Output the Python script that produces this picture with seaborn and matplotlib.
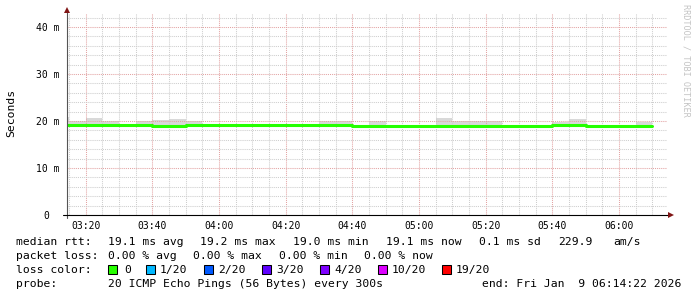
import matplotlib
matplotlib.use("Agg")
import matplotlib.pyplot as plt
import matplotlib.ticker as mticker
from matplotlib.patches import Rectangle
from matplotlib.transforms import ScaledTranslation
import pandas as pd
import seaborn as sns

# ---------------- data ----------------
step_times = ["03:10", "03:15", "03:20", "03:25", "03:30", "03:35", "03:40", "03:45",
              "03:50", "03:55", "04:00", "04:05", "04:10", "04:15", "04:20", "04:25",
              "04:30", "04:35", "04:40", "04:45", "04:50", "04:55", "05:00", "05:05",
              "05:10", "05:15", "05:20", "05:25", "05:30", "05:35", "05:40", "05:45",
              "05:50", "05:55", "06:00", "06:05"]
end_time = "06:10"
median_ms = [19.25, 19.25, 19.25, 19.25, 19.25, 19.25, 19.05, 19.05,
             19.25, 19.25, 19.25, 19.25, 19.25, 19.25, 19.25, 19.25,
             19.25, 19.25, 19.0, 19.0, 19.0, 19.0, 19.0, 19.0,
             19.0, 19.0, 19.0, 19.0, 19.0, 19.0, 19.25, 19.25,
             19.0, 19.0, 19.0, 19.05]
smoke_hi_ms = [20.9, 20.1, 20.7, 20.1, 19.25, 20.1, 20.15, 20.5,
               20.0, 19.25, 19.25, 19.25, 19.25, 19.25, 19.25, 19.25,
               20.0, 20.0, 19.0, 20.0, 19.0, 19.0, 19.0, 20.7,
               20.0, 20.0, 20.0, 19.0, 19.0, 19.0, 19.7, 20.5,
               19.0, 19.0, 19.0, 19.8]
smoke_lo_ms = [18.9, 18.9, 18.9, 18.9, 18.9, 18.9, 18.9, 18.9,
               18.9, 18.9, 18.9, 18.9, 18.9, 18.9, 18.9, 18.9,
               18.9, 18.9, 18.9, 18.9, 18.9, 18.9, 18.9, 18.9,
               18.9, 18.9, 18.9, 18.9, 18.9, 18.9, 18.9, 18.9,
               18.9, 18.9, 18.9, 18.9]
window_start = "03:14:22"
window_end = "06:14:22"
xtick_labels = ["03:20", "03:40", "04:00", "04:20", "04:40", "05:00", "05:20", "05:40", "06:00"]
ytick_values = [0, 10, 20, 30, 40]
ytick_labels = ["0", "10 m", "20 m", "30 m", "40 m"]

stats_rtt = ["19.1 ms avg", "19.2 ms max", "19.0 ms min", "19.1 ms now", "0.1 ms sd", "229.9", "am/s"]
stats_loss = ["0.00 % avg", "0.00 % max", "0.00 % min", "0.00 % now"]
loss_labels = ["0", "1/20", "2/20", "3/20", "4/20", "10/20", "19/20"]
loss_colors = ["#26ff00", "#00b8ff", "#0059ff", "#5e00ff", "#7e00ff", "#dd00ff", "#ff0000"]
probe_text = "20 ICMP Echo Pings (56 Bytes) every 300s"
end_text = "end: Fri Jan  9 06:14:22 2026"


def to_min(s):
    p = [int(v) for v in s.split(":")]
    m = p[0] * 60 + p[1]
    if len(p) == 3:
        m += p[2] / 60.0
    return m


sns.set_theme(style="white")
plt.rcParams["font.family"] = ["DejaVu Sans Mono", "DejaVu Sans"]

W, H = 697, 297
fig = plt.figure(figsize=(W / 100, H / 100), dpi=100)
fig.patch.set_facecolor("white")
L, R, T, B = 67, 667, 13, 215
ax = fig.add_axes([L / W, 1 - B / H, (R - L) / W, (B - T) / H])
ax.set_facecolor("white")

xs = [to_min(t) for t in step_times] + [to_min(end_time)]
df = pd.DataFrame({
    "t": xs,
    "median": median_ms + [median_ms[-1]],
    "lo": smoke_lo_ms + [smoke_lo_ms[-1]],
    "hi": smoke_hi_ms + [smoke_hi_ms[-1]],
})

ax.fill_between(df["t"], df["lo"], df["hi"], step="post", color="#d9d9d9", lw=0, zorder=1)
sns.lineplot(data=df, x="t", y="median", drawstyle="steps-post", color="#26ff00",
             linewidth=2.2, estimator=None, sort=False, ax=ax, zorder=3)
ax.set_xlabel("")

ax.set_xlim(to_min(window_start), to_min(window_end))
ax.set_ylim(0, 43)
ax.set_xticks([to_min(t) for t in xtick_labels])
ax.set_xticklabels(xtick_labels)
ax.xaxis.set_minor_locator(mticker.MultipleLocator(5))
ax.set_yticks(ytick_values)
ax.set_yticklabels(ytick_labels)
ax.yaxis.set_minor_locator(mticker.MultipleLocator(2))

ax.set_axisbelow(False)
ax.grid(which="major", color="#e3a3a3", linestyle=(0, (1, 1)), linewidth=0.75)
ax.grid(which="minor", color="#cdcdcd", linestyle=(0, (1, 1)), linewidth=0.75)

ax.tick_params(axis="both", which="minor", length=0)
ax.tick_params(axis="x", which="major", length=2.2, width=0.75, color="#333333",
               pad=2.2, labelsize=7, labelcolor="black")
ax.tick_params(axis="y", which="major", length=2.2, width=0.75, color="#666666",
               pad=3.5, labelsize=7, labelcolor="black")
for s in ax.spines.values():
    s.set_visible(False)

# shift "0" label like rrdtool (unit column empty)
lbl0 = ax.get_yticklabels()[0]
lbl0.set_transform(lbl0.get_transform() + ScaledTranslation(-10 / 100, 0, fig.dpi_scale_trans))

# axes with arrows
ax.plot([0, 0], [-0.015, 1.012], transform=ax.transAxes, color="#555555", lw=0.8,
        clip_on=False, zorder=4)
ax.plot([-0.007, 1.004], [0, 0], transform=ax.transAxes, color="black", lw=0.8,
        clip_on=False, zorder=4)
ax.plot([0], [1.017], marker="^", ms=4, color="#801515", transform=ax.transAxes,
        clip_on=False, zorder=5, mew=0)
ax.plot([1.006], [0], marker=">", ms=4, color="#801515", transform=ax.transAxes,
        clip_on=False, zorder=5, mew=0)

ax.set_ylabel("Seconds", fontsize=8.2, color="black")
ax.yaxis.set_label_coords((16 - L) / (R - L), (B - 113) / (B - T))

# watermark
fig.text(686 / W, 1 - 4 / H, "RRDTOOL / TOBI OETIKER", rotation=270, ha="center", va="top",
         fontsize=6.1, color="#c4c4c4")

FS = 8.2


def ftext(x, y, s, **kw):
    fig.text(x / W, 1 - y / H, s, fontsize=FS, ha="left", va="center_baseline",
             color="black", **kw)


# legend rows
ftext(16, 241, "median rtt:")
for x, s in zip([108, 200, 293, 386, 479, 558, 613], stats_rtt):
    ftext(x, 241, s)
ftext(16, 255, "packet loss:")
for x, s in zip([108, 193, 279, 364], stats_loss):
    ftext(x, 255, s)
ftext(16, 269, "loss color:")
for xs_, xl, s, c in zip([108, 146, 204, 262, 320, 378, 442],
                         [124, 160, 218, 276, 334, 392, 456], loss_labels, loss_colors):
    fig.add_artist(Rectangle((xs_ / W, 1 - 273.5 / H), 8.5 / W, 9 / H,
                             transform=fig.transFigure, facecolor=c, edgecolor="black",
                             linewidth=0.75))
    ftext(xl, 269, s)
ftext(16, 283, "probe:")
ftext(108, 283, probe_text)
fig.text(681 / W, 1 - 283 / H, end_text, fontsize=FS, ha="right", va="center_baseline",
         color="black")

fig.savefig("out.png", dpi=100, facecolor="white")
